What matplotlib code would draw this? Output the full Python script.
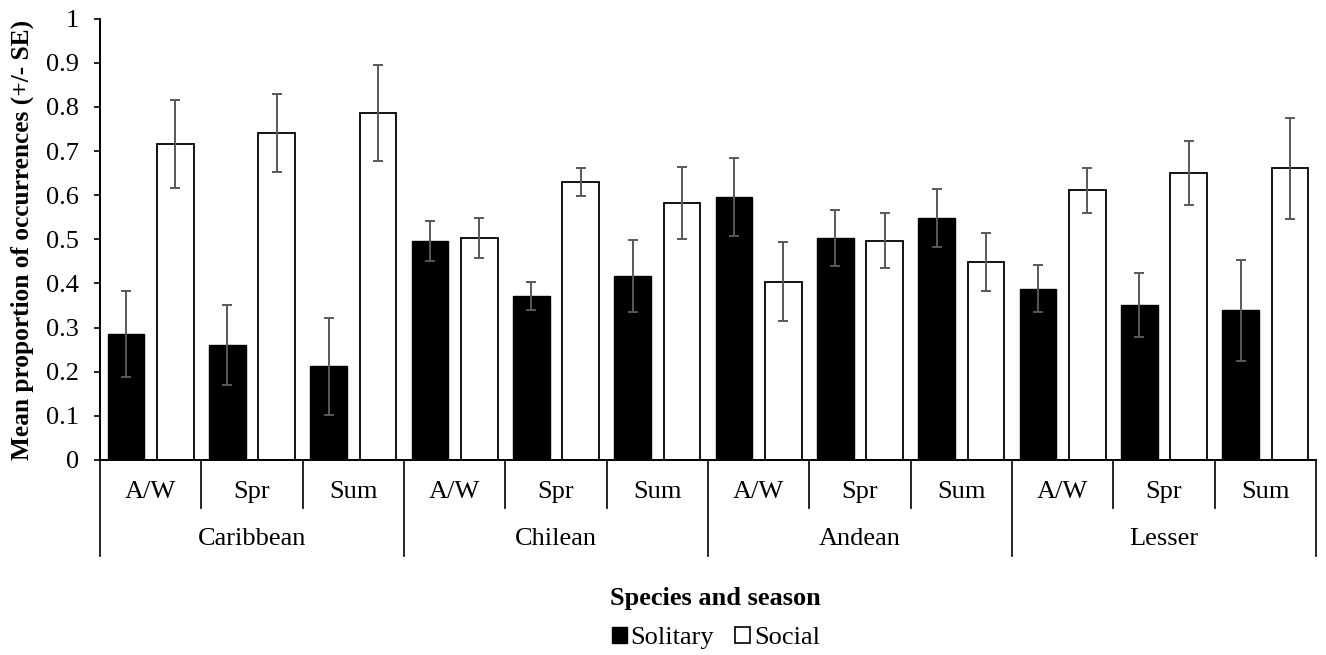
import matplotlib
matplotlib.use("Agg")
import matplotlib.pyplot as plt
import matplotlib.transforms as mtransforms
from matplotlib.patches import Patch
import numpy as np

plt.rcParams['font.family'] = ['Liberation Serif', 'DejaVu Serif']

species = ["Caribbean", "Chilean", "Andean", "Lesser"]
seasons = ["A/W", "Spr", "Sum"]

solitary = [0.286, 0.261, 0.212, 0.497, 0.372, 0.417, 0.596, 0.503, 0.549, 0.388, 0.351, 0.339]
solitary_se = [0.098, 0.090, 0.109, 0.045, 0.031, 0.082, 0.088, 0.063, 0.066, 0.053, 0.073, 0.115]
social = [0.716, 0.741, 0.787, 0.503, 0.630, 0.582, 0.404, 0.497, 0.449, 0.611, 0.650, 0.661]
social_se = [0.100, 0.088, 0.109, 0.045, 0.031, 0.082, 0.090, 0.063, 0.065, 0.051, 0.073, 0.115]

yticks = [0, 0.1, 0.2, 0.3, 0.4, 0.5, 0.6, 0.7, 0.8, 0.9, 1]

FS = 19

fig = plt.figure(figsize=(13.26, 6.55), dpi=100)
ax = fig.add_axes([100/1326, 1-460/655, 1216/1326, (460-18.7)/655])

n = len(solitary)
x = np.arange(n)
off = 0.243
w = 0.36
err_kw = dict(ecolor='#595959', elinewidth=1.4, capsize=3.5, capthick=1.4)
ax.bar(x - off, solitary, w, color='black', edgecolor='black', linewidth=1.0,
       yerr=solitary_se, error_kw=err_kw)
ax.bar(x + off, social, w, color='white', edgecolor='black', linewidth=1.3,
       yerr=social_se, error_kw=err_kw)

ax.set_xlim(-0.5, n - 0.5)
ax.set_ylim(0, 1)
ax.set_yticks(yticks)
ax.set_yticklabels([f"{v:g}" for v in yticks], fontsize=FS)
ax.tick_params(axis='y', direction='out', length=4, width=1.2, pad=11)
ax.set_xticks([])
for s in ['top', 'right']:
    ax.spines[s].set_visible(False)
for s in ['left', 'bottom']:
    ax.spines[s].set_linewidth(1.4)

trans = mtransforms.blended_transform_factory(ax.transData, ax.transAxes)
for i in range(n + 1):
    b = i - 0.5
    y1 = -0.2175 if i % 3 == 0 else -0.109
    ax.plot([b, b], [0, y1], color='black', lw=1.2, transform=trans, clip_on=False)
for i in range(n):
    ax.text(i, -0.0725, seasons[i % 3], transform=trans, ha='center', va='center', fontsize=FS)
for j, sp in enumerate(species):
    ax.text(3 * j + 1, -0.178, sp, transform=trans, ha='center', va='center', fontsize=FS)

fig.text(22/1326, 1 - 240/655, "Mean proportion of occurrences (+/- SE)", rotation=90,
         ha='center', va='center', fontsize=18.3, fontweight='bold')
fig.text(715/1326, 1 - 598/655, "Species and season", ha='center', va='center',
         fontsize=FS, fontweight='bold')

handles = [Patch(facecolor='black', edgecolor='black', label='Solitary'),
           Patch(facecolor='white', edgecolor='black', linewidth=1.2, label='Social')]
fig.legend(handles=handles, loc='center', bbox_to_anchor=(716/1326, 1 - 638/655), ncol=2,
           frameon=False, fontsize=FS, handlelength=0.57, handleheight=0.57,
           handletextpad=0.15, columnspacing=0.8, borderpad=0, borderaxespad=0)

fig.savefig("out.png", dpi=100)
